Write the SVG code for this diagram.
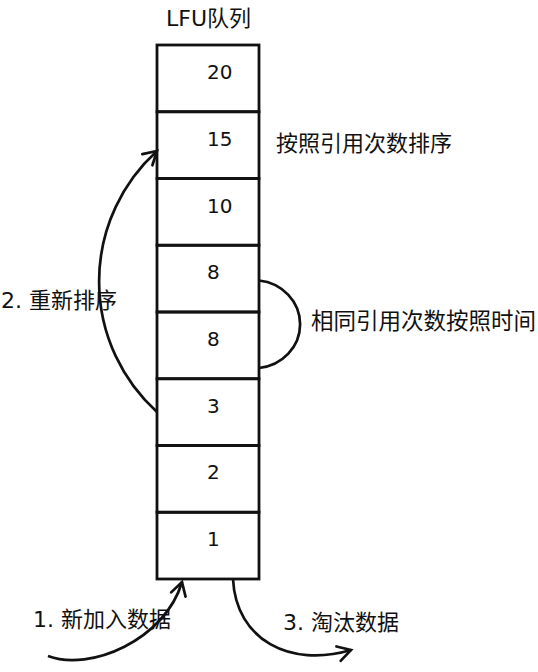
<svg xmlns="http://www.w3.org/2000/svg" width="538" height="672" viewBox="0 0 538 672">
  <style>
    text { font-family: "DejaVu Sans", "Noto Sans CJK SC", sans-serif; fill: #111; }
    .num { font-size: 20px; }
    .lbl { font-size: 22px; }
    .wide { font-size: 22.5px; }
    .box { fill: none; stroke: #111; stroke-width: 2.8; }
    .conn { fill: none; stroke: #111; stroke-width: 2.7; }
  </style>
  <defs>
    <marker id="arr" markerUnits="userSpaceOnUse" viewBox="0 0 20 20" refX="16" refY="10" markerWidth="20" markerHeight="20" orient="auto">
      <path d="M3,2.5 L16,10 L3,17.5" fill="none" stroke="#111" stroke-width="2.7" stroke-linecap="round" stroke-linejoin="miter"/>
    </marker>
  </defs>
  <rect width="538" height="672" fill="#fff"/>

  <g id="title"><text class="lbl" x="166" y="26">LFU队列</text></g>

  <g id="node-20"><rect class="box" x="157" y="45" width="102" height="66.75"/><text class="num" x="207" y="79">20</text></g>
  <g id="node-15"><rect class="box" x="157" y="111.75" width="102" height="66.75"/><text class="num" x="207" y="146">15</text></g>
  <g id="node-10"><rect class="box" x="157" y="178.5" width="102" height="66.75"/><text class="num" x="207" y="213">10</text></g>
  <g id="node-8a"><rect class="box" x="157" y="245.25" width="102" height="66.75"/><text class="num" x="207" y="279">8</text></g>
  <g id="node-8b"><rect class="box" x="157" y="312" width="102" height="66.75"/><text class="num" x="207" y="346">8</text></g>
  <g id="node-3"><rect class="box" x="157" y="378.75" width="102" height="66.75"/><text class="num" x="207" y="413">3</text></g>
  <g id="node-2"><rect class="box" x="157" y="445.5" width="102" height="66.75"/><text class="num" x="207" y="479">2</text></g>
  <g id="node-1"><rect class="box" x="157" y="512.25" width="102" height="66.75"/><text class="num" x="207" y="546">1</text></g>

  <g id="connectors">
    <path class="conn" d="M157,412 A176,176 0 0 1 157,151" marker-end="url(#arr)"/>
    <path class="conn" d="M259,280.5 A46,44 0 0 1 259,368"/>
    <path class="conn" d="M48,656 C90,672 165,640 182,582" marker-end="url(#arr)"/>
    <path class="conn" d="M233,579 C236,640 290,668 351,650" marker-end="url(#arr)"/>
  </g>

  <g id="labels">
    <text class="lbl" x="276" y="151">按照引用次数排序</text>
    <text class="lbl" x="1" y="308">2. 重新排序</text>
    <text class="wide" x="311" y="329">相同引用次数按照时间</text>
    <text class="lbl" x="33" y="627">1. 新加入数据</text>
    <text class="lbl" x="283" y="630">3. 淘汰数据</text>
  </g>
</svg>
